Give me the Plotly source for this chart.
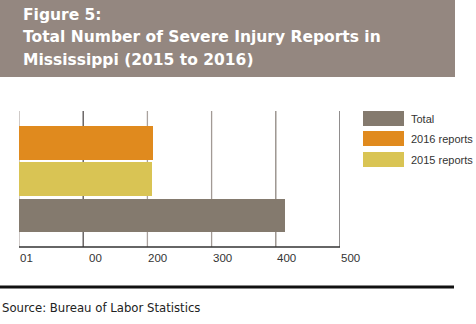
import plotly.graph_objects as go

categories = ["Total", "2015 reports", "2016 reports"]
values = [415, 207, 208]
colors = ["#847a6e", "#d9c454", "#e08a1e"]
tick_vals = [0, 100, 200, 300, 400, 500]
tick_text = ["01", "00", "200", "300", "400", "500"]
grid_colors = ["#b5aeaa", "#555050", "#aaa29e", "#a29a95", "#8f8780", "#555050"]
legend_order = ["Total", "2016 reports", "2015 reports"]

W, H = 476, 324
L, R, T, B = 19, 136, 111, 77
PW = W - L - R
PH = H - T - B

def px(x):
    return (x - L) / PW

def py(y):
    return (H - B - y) / PH

fig = go.Figure()
fig.add_trace(go.Bar(
    y=list(range(len(categories))), x=values, orientation="h",
    marker=dict(color=colors, line=dict(width=0)), width=0.93,
    showlegend=False, hoverinfo="skip"))

shapes = []
# header band
shapes.append(dict(type="rect", xref="paper", yref="paper", x0=px(0), x1=px(455),
                   y0=py(77), y1=py(0), fillcolor="#948780", line=dict(width=0), layer="below"))
# gridlines
for v, c in zip(tick_vals, grid_colors):
    shapes.append(dict(type="line", xref="x", yref="paper", x0=v, x1=v, y0=0, y1=1,
                       line=dict(color=c, width=1.3), layer="below"))
# bottom axis line
shapes.append(dict(type="line", xref="x", yref="paper", x0=0, x1=500, y0=0, y1=0,
                   line=dict(color="#333333", width=1.5)))
# source rule
shapes.append(dict(type="line", xref="paper", yref="paper", x0=px(0), x1=px(454),
                   y0=py(287), y1=py(287), line=dict(color="#111111", width=3)))

annotations = []
for v, t in zip(tick_vals, tick_text):
    annotations.append(dict(x=v, xref="x", y=py(250), yref="paper", text=t, showarrow=False,
                            xanchor="left", yanchor="top", xshift=-1 if v != 100 else 4,
                            font=dict(family="Liberation Sans, Arial", size=11.5, color="#333333")))

# legend
legend_colors = {c: col for c, col in zip(categories, colors)}
leg_tops = [111, 131, 152]
for name, top in zip(legend_order, leg_tops):
    shapes.append(dict(type="rect", xref="paper", yref="paper", x0=px(363), x1=px(404),
                       y0=py(top + 15), y1=py(top), fillcolor=legend_colors[name],
                       line=dict(width=0)))
    annotations.append(dict(x=px(409), xref="paper", y=py(top + 7.5), yref="paper", text=name,
                            showarrow=False, xanchor="left", yanchor="middle",
                            font=dict(family="Liberation Sans Narrow, Liberation Sans, Arial", size=11, color="#333333")))

# title
title_lines = ["Figure 5:", "Total Number of Severe Injury Reports in", "Mississippi (2015 to 2016)"]
for i, line in enumerate(title_lines):
    annotations.append(dict(x=px(21), xref="paper", y=py(15 + 22.5 * i), yref="paper", text="<b>" + line + "</b>",
                            showarrow=False, xanchor="left", yanchor="middle",
                            font=dict(family="DejaVu Sans, Liberation Sans, Arial", size=15.5, color="#ffffff")))

# source
annotations.append(dict(x=px(0), xref="paper", y=py(308), yref="paper", text="Source: Bureau of Labor Statistics",
                        showarrow=False, xanchor="left", yanchor="middle",
                        font=dict(family="DejaVu Sans, Liberation Sans, Arial", size=11.7, color="#222222")))

fig.update_layout(
    width=W, height=H, margin=dict(l=L, r=R, t=T, b=B, pad=0),
    paper_bgcolor="#ffffff", plot_bgcolor="#ffffff",
    xaxis=dict(range=[0, 500], showgrid=False, zeroline=False, showticklabels=False, ticks=""),
    yaxis=dict(range=[-0.87, 2.88], showgrid=False, zeroline=False, showticklabels=False, ticks=""),
    shapes=shapes, annotations=annotations, bargap=0,
)

fig.write_html("out.html", config={"displayModeBar": False})
